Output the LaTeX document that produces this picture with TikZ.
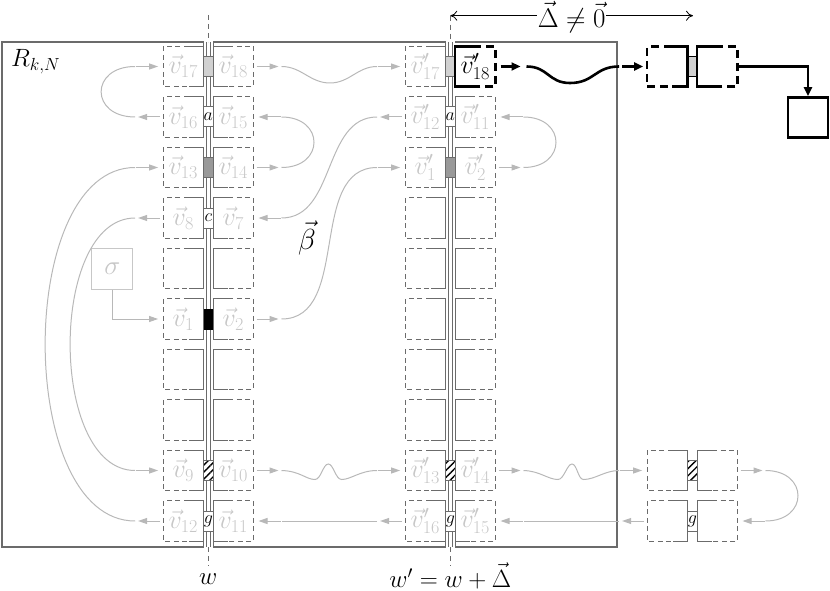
\RequirePackage{fix-cm}
\documentclass[tikz,border=0pt]{standalone}
\usetikzlibrary{arrows.meta,patterns.meta}
\definecolor{edgec}{gray}{0.42}
\definecolor{labc}{gray}{0.78}
\definecolor{connc}{gray}{0.72}
\definecolor{lgfill}{gray}{0.82}
\definecolor{dgfill}{gray}{0.6}
\tikzset{
 cell/.style={rectangle, minimum width=40pt, minimum height=40pt, inner sep=0pt, text=labc, font=\fontsize{26}{30}\selectfont},
 bcell/.style={cell, text=black},
 sedge/.style={draw=edgec, line width=1.1pt},
 dedge/.style={sedge, dash pattern=on 5pt off 3.5pt},
 bsedge/.style={draw=black, line width=2.6pt},
 bdedge/.style={bsedge, dash pattern=on 8pt off 5pt},
 chan/.style={draw=edgec, line width=0.8pt},
 gapbox/.style={rectangle, minimum width=10pt, minimum height=20pt, inner sep=0pt, draw=edgec, line width=1pt, font=\fontsize{18}{20}\selectfont},
 conn/.style={draw=connc, line width=1pt},
 garrow/.style={conn, -{Triangle[length=9pt,width=6pt]}},
 bline/.style={draw=black, line width=2.6pt},
 barrow/.style={bline, -{Triangle[length=9pt,width=8pt]}},
 wline/.style={draw=edgec, line width=1pt, dash pattern=on 5pt off 4pt},
 redge/.style={draw=edgec, line width=1.1pt},
 hatch/.style={pattern={Lines[angle=45,distance=5pt,line width=1.4pt]}, pattern color=black},
 darrow/.style={draw=black, line width=0.8pt, {Computer Modern Rightarrow[length=7pt,width=10pt]}-{Computer Modern Rightarrow[length=7pt,width=10pt]}},
 lbl/.style={font=\fontsize{25}{30}\selectfont, inner sep=0pt},
}
\newcommand\lcell[4]{%
  \node[cell] (#1) at (#2,#3) {#4};
  \draw[dedge] ([xshift=-15pt]#1.north east) -- (#1.north west) -- (#1.south west) -- ([xshift=-15pt]#1.south east);
  \draw[sedge] ([xshift=-15pt]#1.north east) -- (#1.north east) -- (#1.south east) -- ([xshift=-15pt]#1.south east);
}
\newcommand\rcell[4]{%
  \node[cell] (#1) at (#2,#3) {#4};
  \draw[dedge] ([xshift=15pt]#1.north west) -- (#1.north east) -- (#1.south east) -- ([xshift=15pt]#1.south west);
  \draw[sedge] ([xshift=15pt]#1.north west) -- (#1.north west) -- (#1.south west) -- ([xshift=15pt]#1.south west);
}
\newcommand\lcellb[4]{%
  \node[bcell] (#1) at (#2,#3) {#4};
  \draw[bdedge] ([xshift=-16pt]#1.north east) -- (#1.north west) -- (#1.south west) -- ([xshift=-16pt]#1.south east);
  \draw[bsedge] ([xshift=-16pt]#1.north east) -- (#1.north east) -- (#1.south east) -- ([xshift=-16pt]#1.south east);
}
\newcommand\rcellb[4]{%
  \node[bcell] (#1) at (#2,#3) {#4};
  \draw[bdedge] ([xshift=18pt]#1.north west) -- (#1.north east) -- (#1.south east) -- ([xshift=18pt]#1.south west);
  \draw[bsedge] ([xshift=18pt]#1.north west) -- (#1.north west) -- (#1.south west) -- ([xshift=18pt]#1.south west);
}
\newcommand\cellpair[6]{\lcell{#1}{#3-25}{#4}{#5}\rcell{#2}{#3+25}{#4}{#6}}
\def\colw{208.3}
\def\colwp{450.3}
\def\colf{692.3}
\def\yA{66.5}\def\yB{117}\def\yC{167.5}\def\yD{218}\def\yE{268.5}
\def\yF{319}\def\yG{369.5}\def\yH{420}\def\yI{470.5}\def\yJ{521}
\begin{document}
\begin{tikzpicture}[x=1pt,y=-1pt]
\useasboundingbox (0,0) rectangle (830,591);
% region R
\draw[redge] (\colw-5,46.5) -- (\colw-5,42) -- (2,42) -- (2,547) -- (\colw-5,547) -- (\colw-5,541);
\draw[redge] (\colw+5,46.5) -- (\colw+5,42) -- (\colwp-5,42) -- (\colwp-5,46.5);
\draw[redge] (\colw+5,541) -- (\colw+5,547) -- (\colwp-5,547) -- (\colwp-5,541);
\draw[redge] (\colwp+5,42) -- (617,42) -- (617,547) -- (\colwp+5,547) -- (\colwp+5,541);
\node[lbl, anchor=west] (rkn) at (11,62) {$R_{k,N}$};
% w lines
\draw[wline] (\colw,15) -- (\colw,42);
\draw[wline] (\colw,547) -- (\colw,566);
\draw[wline] (\colwp,15.7) -- (\colwp,42);
\draw[wline] (\colwp,547) -- (\colwp,566);
% channels
\draw[chan] (\colw-2,42) -- (\colw-2,547);
\draw[chan] (\colw+2,42) -- (\colw+2,547);
\draw[chan] (\colwp-2,42) -- (\colwp-2,547);
\draw[chan] (\colwp+2,42) -- (\colwp+2,547);
% gap boxes, column w
\node[gapbox, fill=lgfill] (gw1) at (\colw,\yA) {};
\node[gapbox, fill=white] (gw2) at (\colw,\yB) {$a$};
\node[gapbox, fill=dgfill] (gw3) at (\colw,\yC) {};
\node[gapbox, fill=white] (gw4) at (\colw,\yD) {$c$};
\node[gapbox, fill=black, draw=black] (gw6) at (\colw,\yF) {};
\node[gapbox, fill=white] (gw9b) at (\colw,\yI) {};
\node[gapbox, hatch] (gw9) at (\colw,\yI) {};
\node[gapbox, fill=white] (gw10) at (\colw,\yJ) {$g$};
% gap boxes, column w'
\node[gapbox, fill=lgfill] (gp1) at (\colwp,\yA) {};
\node[gapbox, fill=white] (gp2) at (\colwp,\yB) {$a$};
\node[gapbox, fill=dgfill] (gp3) at (\colwp,\yC) {};
\node[gapbox, fill=white] (gp9b) at (\colwp,\yI) {};
\node[gapbox, hatch] (gp9) at (\colwp,\yI) {};
\node[gapbox, fill=white] (gp10) at (\colwp,\yJ) {$g$};
% gap boxes, far right
\node[gapbox, fill=white] (gf9b) at (\colf,\yI) {};
\node[gapbox, hatch] (gf9) at (\colf,\yI) {};
\node[gapbox, fill=white] (gf10) at (\colf,\yJ) {$g$};
\node[gapbox, fill=lgfill, draw=black, line width=1.5pt] (gt1) at (\colf,\yA) {};
% cells, column w
\cellpair{v17}{v18}{\colw}{\yA}{$\vec{v}_{17}$}{$\vec{v}_{18}$}
\cellpair{v16}{v15}{\colw}{\yB}{$\vec{v}_{16}$}{$\vec{v}_{15}$}
\cellpair{v13}{v14}{\colw}{\yC}{$\vec{v}_{13}$}{$\vec{v}_{14}$}
\cellpair{v8}{v7}{\colw}{\yD}{$\vec{v}_{8}$}{$\vec{v}_{7}$}
\cellpair{e5l}{e5r}{\colw}{\yE}{}{}
\cellpair{v1}{v2}{\colw}{\yF}{$\vec{v}_{1}$}{$\vec{v}_{2}$}
\cellpair{e7l}{e7r}{\colw}{\yG}{}{}
\cellpair{e8l}{e8r}{\colw}{\yH}{}{}
\cellpair{v9}{v10}{\colw}{\yI}{$\vec{v}_{9}$}{$\vec{v}_{10}$}
\cellpair{v12}{v11}{\colw}{\yJ}{$\vec{v}_{12}$}{$\vec{v}_{11}$}
% cells, column w'
\lcell{vp17}{\colwp-25}{\yA}{$\vec{v}'_{17}$}
\rcellb{vp18}{\colwp+25}{\yA}{$\vec{v}'_{18}$}
\cellpair{vp12}{vp11}{\colwp}{\yB}{$\vec{v}'_{12}$}{$\vec{v}'_{11}$}
\cellpair{vp1}{vp2}{\colwp}{\yC}{$\vec{v}'_{1}$}{$\vec{v}'_{2}$}
\cellpair{ep4l}{ep4r}{\colwp}{\yD}{}{}
\cellpair{ep5l}{ep5r}{\colwp}{\yE}{}{}
\cellpair{ep6l}{ep6r}{\colwp}{\yF}{}{}
\cellpair{ep7l}{ep7r}{\colwp}{\yG}{}{}
\cellpair{ep8l}{ep8r}{\colwp}{\yH}{}{}
\cellpair{vp13}{vp14}{\colwp}{\yI}{$\vec{v}'_{13}$}{$\vec{v}'_{14}$}
\cellpair{vp16}{vp15}{\colwp}{\yJ}{$\vec{v}'_{16}$}{$\vec{v}'_{15}$}
% cells, far right
\cellpair{f9l}{f9r}{\colf}{\yI}{}{}
\cellpair{f10l}{f10r}{\colf}{\yJ}{}{}
\lcellb{t1l}{\colf-25}{\yA}{}
\rcellb{t1r}{\colf+25}{\yA}{}
\node[rectangle, minimum size=40pt, inner sep=0pt, draw=black, line width=2.6pt] (fin) at (808,117.5) {};
% sigma
\node[rectangle, minimum size=41pt, inner sep=0pt, draw=labc, line width=1pt, text=labc, font=\fontsize{27}{30}\selectfont] (sig) at (112.3,268.8) {$\sigma$};
% labels
\node[lbl] (wlab) at (\colw,579) {$w$};
\node[lbl] (wplab) at (\colwp,576) {$w'=w+\vec{\Delta}$};
\node[font=\fontsize{29}{32}\selectfont, inner sep=0pt] (beta) at (307,238) {$\vec{\beta}$};
\coordinate (dL) at (\colwp,15.7);
\coordinate (dR) at (693,15.7);
\draw[darrow] (dL) -- node[fill=white, inner sep=1pt, yshift=-1pt, font=\fontsize{27}{30}\selectfont] (dlab) {$\vec{\Delta}\neq\vec{0}$} (dR);
% connectors
% v16 -> v17
\draw[garrow] ([xshift=-3pt]v16.west) -- ++(-22,0);
\draw[conn] ([xshift=-28pt]v16.west) to[out=180,in=180,looseness=2.3] ([xshift=-28pt]v17.west);
\draw[garrow] ([xshift=-27pt]v17.west) -- ([xshift=-5pt]v17.west);
% v18 -> vp17
\draw[garrow] ([xshift=3pt]v18.east) -- ++(22,0);
\draw[conn] ([xshift=28pt]v18.east) to[out=0,in=180] (330,83) to[out=0,in=180] ([xshift=-28pt]vp17.west);
\draw[garrow] ([xshift=-27pt]vp17.west) -- ([xshift=-5pt]vp17.west);
% v14 -> v15
\draw[garrow] ([xshift=3pt]v14.east) -- ++(22,0);
\draw[conn] ([xshift=28pt]v14.east) to[out=0,in=0,looseness=2.2] ([xshift=28pt]v15.east);
\draw[garrow] ([xshift=27pt]v15.east) -- ([xshift=5pt]v15.east);
% v12 -> v13
\draw[garrow] ([xshift=-3pt]v12.west) -- ++(-22,0);
\draw[conn] ([xshift=-28pt]v12.west) to[out=180,in=180,looseness=0.87] ([xshift=-28pt]v13.west);
\draw[garrow] ([xshift=-27pt]v13.west) -- ([xshift=-5pt]v13.west);
% v8 -> v9
\draw[garrow] ([xshift=-3pt]v8.west) -- ++(-22,0);
\draw[conn] ([xshift=-28pt]v8.west) to[out=180,in=180,looseness=0.88] ([xshift=-28pt]v9.west);
\draw[garrow] ([xshift=-27pt]v9.west) -- ([xshift=-5pt]v9.west);
% vp12 -> v7
\draw[garrow] ([xshift=-3pt]vp12.west) -- ++(-22,0);
\draw[conn] ([xshift=-28pt]vp12.west) to[out=180,in=0] ([xshift=28pt]v7.east);
\draw[garrow] ([xshift=27pt]v7.east) -- ([xshift=5pt]v7.east);
% v2 -> vp1
\draw[garrow] ([xshift=3pt]v2.east) -- ++(22,0);
\draw[conn] ([xshift=28pt]v2.east) to[out=0,in=180] ([xshift=-28pt]vp1.west);
\draw[garrow] ([xshift=-27pt]vp1.west) -- ([xshift=-5pt]vp1.west);
% sigma -> v1
\draw[garrow] (sig.south) |- ([xshift=-5pt]v1.west);
% v10 -> vp13
\draw[garrow] ([xshift=3pt]v10.east) -- ++(22,0);
\draw[conn] ([xshift=28pt]v10.east) .. controls (300,471) and (306,479.5) .. (315,479.5) .. controls (321,479.5) and (323,464) .. (328.3,464) .. controls (333.5,464) and (335.5,479.5) .. (341.7,479.5) .. controls (351,479.5) and (360,470.5) .. ([xshift=-28pt]vp13.west);
\draw[garrow] ([xshift=-27pt]vp13.west) -- ([xshift=-5pt]vp13.west);
% vp16 -> v11
\draw[garrow] ([xshift=-3pt]vp16.west) -- ++(-22,0);
\draw[conn] ([xshift=-28pt]vp16.west) -- ([xshift=28pt]v11.east);
\draw[garrow] ([xshift=27pt]v11.east) -- ([xshift=5pt]v11.east);
% vp2 -> vp11
\draw[garrow] ([xshift=3pt]vp2.east) -- ++(22,0);
\draw[conn] ([xshift=28pt]vp2.east) to[out=0,in=0,looseness=2.2] ([xshift=28pt]vp11.east);
\draw[garrow] ([xshift=27pt]vp11.east) -- ([xshift=5pt]vp11.east);
% vp14 -> f9l
\draw[garrow] ([xshift=3pt]vp14.east) -- ++(22,0);
\draw[conn] ([xshift=28pt]vp14.east) .. controls (540,471) and (548,479.5) .. (558,479.5) .. controls (564,479.5) and (567,464) .. (572,464) .. controls (577,464) and (578,479.5) .. (583.5,479.5) .. controls (595,479.5) and (605,470.5) .. ([xshift=-28pt]f9l.west);
\draw[garrow] ([xshift=-27pt]f9l.west) -- ([xshift=-5pt]f9l.west);
% f9r -> f10r
\draw[garrow] ([xshift=3pt]f9r.east) -- ++(22,0);
\draw[conn] ([xshift=28pt]f9r.east) to[out=0,in=0,looseness=2.2] ([xshift=28pt]f10r.east);
\draw[garrow] ([xshift=27pt]f10r.east) -- ([xshift=5pt]f10r.east);
% f10l -> vp15
\draw[garrow] ([xshift=-3pt]f10l.west) -- ++(-22,0);
\draw[conn] ([xshift=-28pt]f10l.west) -- ([xshift=28pt]vp15.east);
\draw[garrow] ([xshift=27pt]vp15.east) -- ([xshift=5pt]vp15.east);
% vp18 -> t1l (bold)
\draw[barrow] ([xshift=5pt]vp18.east) -- ++(20,0);
\draw[bline] ([xshift=31pt]vp18.east) to[out=0,in=180,looseness=1.2] (570,83) to[out=0,in=180,looseness=1.2] ([xshift=-28pt]t1l.west);
\draw[barrow] ([xshift=-25pt]t1l.west) -- ([xshift=-4pt]t1l.west);
% t1r -> fin
\draw[barrow] (t1r.east) -| (fin.north);
\end{tikzpicture}
\end{document}
